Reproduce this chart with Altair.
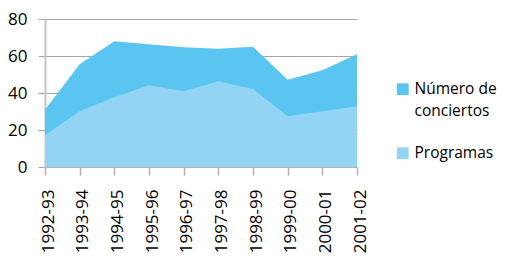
import altair as alt
import pandas as pd

temporadas = ["1992-93", "1993-94", "1994-95", "1995-96", "1996-97",
              "1997-98", "1998-99", "1999-00", "2000-01", "2001-02"]
conciertos = [31, 55.5, 68, 66.3, 64.7, 63.9, 65, 47.1, 52.3, 61]
programas = [17.2, 30.2, 37.7, 44.2, 40.9, 46.4, 42.2, 27.4, 30.2, 32.8]

series_names = ["Número de conciertos", "Programas"]
series_colors = ["#5bc5f2", "#93d4f5"]
y_ticks = [0, 20, 40, 60, 80]

df = pd.DataFrame({"temporada": temporadas, "conciertos": conciertos, "programas": programas})

FONT = "Open Sans"

x_enc = alt.X(
    "temporada:O",
    sort=temporadas,
    scale=alt.Scale(type="point", padding=0),
    axis=alt.Axis(
        title=None, labelAngle=270, tickSize=8, tickColor="#b3b3b3", tickWidth=1.5,
        domainColor="#b3b3b3", labelPadding=14, labelOffset=3,
        labelFont=FONT, labelFontSize=17, labelColor="#000000", grid=False,
    ),
)

y_axis = alt.Axis(
    title=None, values=y_ticks, grid=True, gridColor="#a6a6a6", gridWidth=1,
    tickSize=7, tickColor="#a6a6a6", domainColor="#c4c4c4", domainWidth=2,
    labelPadding=11, labelFont=FONT, labelFontSize=17, labelColor="#000000",
    labelOverlap=False, labelFlush=False,
)
y_scale = alt.Scale(domain=[0, 80], nice=False)

color_scale = alt.Scale(domain=series_names, range=series_colors)
legend = alt.Legend(
    title=None, orient="none", legendX=350, legendY=62.5, padding=0,
    symbolType="square", symbolSize=140, symbolStrokeWidth=0, symbolOpacity=1,
    labelFont=FONT, labelFontSize=15.5, labelColor="#000000", labelOffset=4,
    rowPadding=25, labelLimit=300,
    labelExpr="datum.label == 'Número de conciertos' ? ['Número de', 'conciertos'] : datum.label",
)

base = alt.Chart(df)
a1 = base.transform_calculate(serie="'" + series_names[0] + "'").mark_area(opacity=1).encode(
    x=x_enc,
    y=alt.Y("conciertos:Q", scale=y_scale, axis=y_axis),
    color=alt.Color("serie:N", scale=color_scale, legend=legend),
)
a2 = base.transform_calculate(serie="'" + series_names[1] + "'").mark_area(opacity=1).encode(
    x=x_enc,
    y=alt.Y("programas:Q", scale=y_scale, axis=y_axis),
    color=alt.Color("serie:N", scale=color_scale, legend=legend),
)

chart = alt.layer(a1, a2).properties(
    width=312, height=148,
    autosize=alt.AutoSizeParams(type="none"),
    padding={"left": 37, "top": 11, "right": 141, "bottom": 88},
).configure(
    style={"guide-label": {"lineHeight": 22}},
).configure_view(stroke=None)

chart.save("out.html", embed_options={"renderer": "svg", "actions": False})
